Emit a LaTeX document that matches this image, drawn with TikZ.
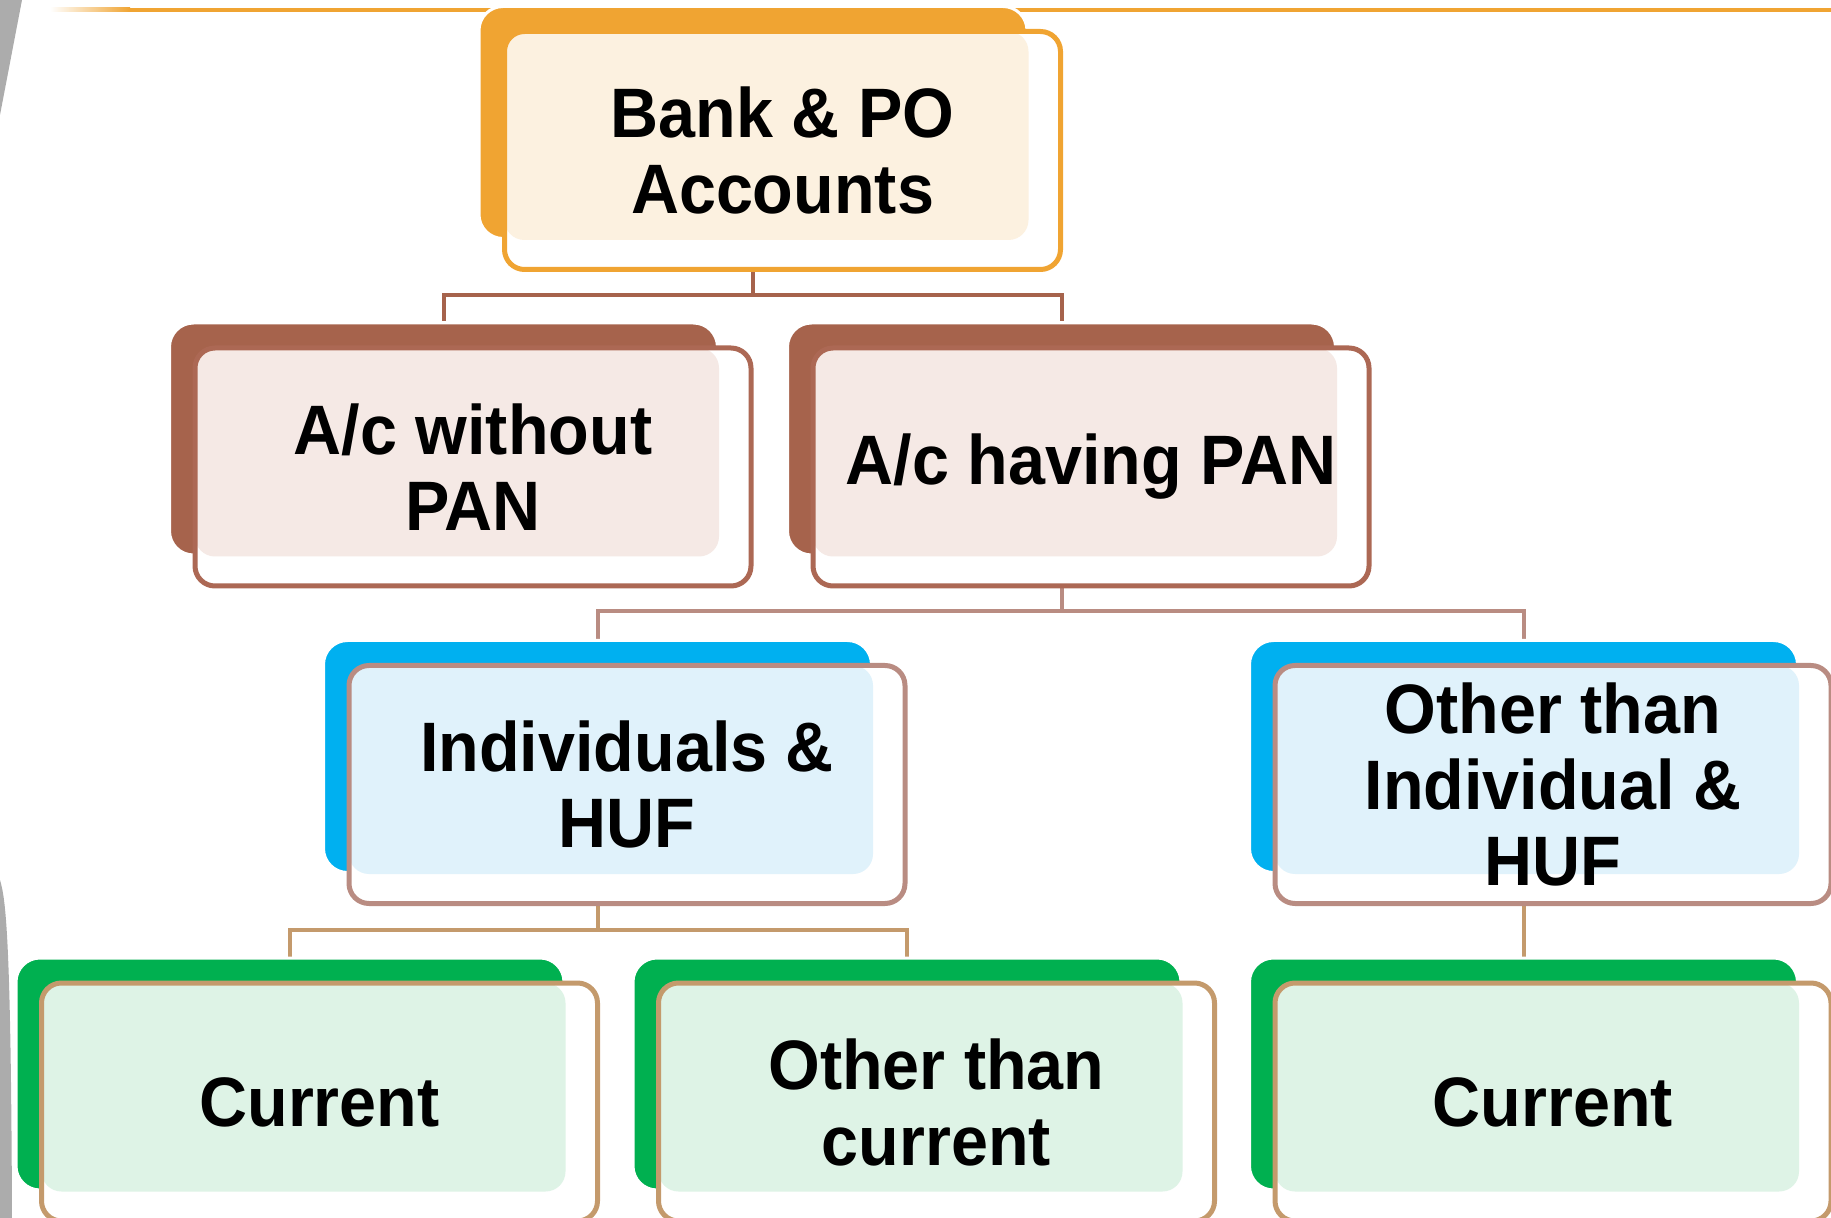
\documentclass[tikz,border=0pt]{standalone}
\usepackage{fontspec}
\setmainfont{Liberation Sans}[FakeStretch=0.95]
\usetikzlibrary{backgrounds}

\definecolor{orgC}{RGB}{240,164,50}
\definecolor{orgT}{RGB}{252,241,224}
\definecolor{brownC}{RGB}{166,99,76}
\definecolor{brownE}{RGB}{172,104,84}
\definecolor{brownT}{RGB}{245,233,229}
\definecolor{blueC}{RGB}{0,176,240}
\definecolor{blueT}{RGB}{224,242,251}
\definecolor{greenC}{RGB}{0,176,80}
\definecolor{greenT}{RGB}{222,243,230}
\definecolor{pinkE}{RGB}{185,140,130}
\definecolor{tanE}{RGB}{196,154,108}

\tikzset{
  back/.style={fill=#1, draw=white, line width=1.5pt, rounded corners=12pt,
    minimum width=274pt, minimum height=116pt, inner sep=0pt},
  front/.style n args={3}{draw=#1, fill=white, line width=2.5pt,
    rounded corners=10pt, minimum width=278pt, minimum height=119pt,
    inner sep=0pt, align=center,
    font=\bfseries\fontsize{35}{38}\selectfont,
    path picture={\fill[#2, rounded corners=10pt]
      (path picture bounding box.north west) rectangle (#3.south east);}},
  link/.style={draw=#1, line width=2pt}
}

\begin{document}
\begin{tikzpicture}[x=0.5pt,y=-0.5pt]
  \useasboundingbox (0,0) rectangle (1831,1218);

  % back plates
  \node[back=orgC]   (topb) at (753,122.5) {};
  \node[back=brownC] (lb)   at (443.5,439) {};
  \node[back=brownC] (rb)   at (1061.5,439) {};
  \node[back=blueC]  (ib)   at (597.5,756.5) {};
  \node[back=blueC]  (ob)   at (1523.5,756.5) {};
  \node[back=greenC] (c1b)  at (290,1074) {};
  \node[back=greenC] (c2b)  at (907,1074) {};
  \node[back=greenC] (c3b)  at (1523.5,1074) {};

  % boxes
  \node[front={orgC}{orgT}{topb}] (top) at ([shift={(29.5,28)}]topb.center)
    {Bank \& PO\\Accounts};
  \node[front={brownE}{brownT}{lb}] (nopan) at ([shift={(29.5,28)}]lb.center)
    {A/c without\\PAN};
  \node[front={brownE}{brownT}{rb}] (pan) at ([shift={(29.5,28)}]rb.center)
    {A/c having PAN};
  \node[front={pinkE}{blueT}{ib}] (indiv) at ([shift={(29.5,28)}]ib.center)
    {Individuals \&\\HUF};
  \node[front={pinkE}{blueT}{ob}] (other) at ([shift={(29.5,28)}]ob.center)
    {Other than\\Individual \&\\HUF};
  \node[front={tanE}{greenT}{c1b}] (cur1) at ([shift={(29.5,28)}]c1b.center)
    {Current};
  \node[front={tanE}{greenT}{c2b}] (noncur) at ([shift={(29.5,28)}]c2b.center)
    {Other than\\current};
  \node[front={tanE}{greenT}{c3b}] (cur2) at ([shift={(29.5,28)}]c3b.center)
    {Current};

  \coordinate (bus1) at (0,295);
  \coordinate (bus2) at (0,611);
  \coordinate (bus3) at (0,930);

  \begin{scope}[on background layer]
    % slide edge and rule
    \fill[gray!65] (0,0) -- (22,0) -- (0,115) -- cycle;
    \fill[gray!65] (0,880) .. controls (6,900) and (11,940) .. (12,1218)
      -- (0,1218) -- cycle;
    \shade[left color=white, right color=orgC] (50,8) rectangle (130,12);
    \fill[orgC] (130,8) rectangle (1831,12);
    % connectors
    \draw[link=brownC] (topb) -- (topb |- bus1) -| (lb);
    \draw[link=brownC] (topb |- bus1) -| (rb);
    \draw[link=pinkE] (rb) -- (rb |- bus2) -| (ib);
    \draw[link=pinkE] (rb |- bus2) -| (ob);
    \draw[link=tanE] (ib) -- (ib |- bus3) -| (c1b);
    \draw[link=tanE] (ib |- bus3) -| (c2b);
    \draw[link=tanE] (ob) -- (c3b);
  \end{scope}
\end{tikzpicture}
\end{document}
